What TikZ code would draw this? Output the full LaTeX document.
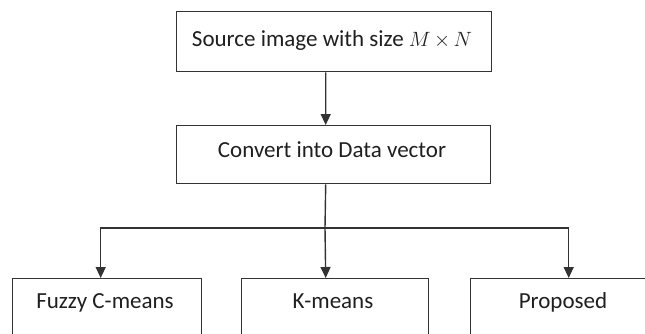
\documentclass[tikz,border=0pt]{standalone}
\usepackage{fontspec}
\setmainfont{Carlito}
\usetikzlibrary{arrows.meta}
\begin{document}
\begin{tikzpicture}[x=1bp,y=-1bp,
  stagebox/.style={draw=black!80, line width=1.4bp, anchor=north west,
    inner sep=0pt, minimum width=#1},
  caption/.style={anchor=base, inner sep=0pt, text=black!88,
    font=\fontsize{23bp}{27bp}\selectfont},
  flow/.style={draw=black!80, line width=1.4bp},
  flowarrow/.style={flow, -{Triangle[length=11bp,width=10bp]}}]
\useasboundingbox (0,0) rectangle (645,333);
\clip (0,0) rectangle (645,333);

% stage boxes
\node[stagebox=315bp, minimum height=60bp] (src) at (176,11) {};
\node[stagebox=314bp, minimum height=58bp] (conv) at (176,125) {};
\node[stagebox=189bp, minimum height=80bp] (fcm) at (12,278) {};
\node[stagebox=187bp, minimum height=80bp] (km) at (241,278) {};
\node[stagebox=186bp, minimum height=80bp] (prop) at (470,278) {};

% box captions
\node[caption] (srcT) at (332,46) {Source image with size
  {\fontsize{21bp}{25bp}\selectfont$M\mkern-1mu\times\mkern-1mu N$}};
\node[caption] (convT) at (332,157) {Convert into Data vector};
\node[caption] (fcmT) at (105,308) {Fuzzy C-means};
\node[caption] (kmT) at (333,308) {K-means};
\node[caption] (propT) at (563,308) {Proposed};

% connectors
\coordinate (split) at (325,228);
\draw[flowarrow] ([xshift=-8.5bp]src.south) -- ([xshift=-8bp]conv.north);
\draw[flow] ([xshift=-8bp]conv.south) -- (split);
\draw[flowarrow] (split) -| ([xshift=-6.5bp]fcm.north);
\draw[flowarrow] (split) -- ([xshift=-9.5bp]km.north);
\draw[flowarrow] (split) -| ([xshift=5bp]prop.north);
\end{tikzpicture}
\end{document}
